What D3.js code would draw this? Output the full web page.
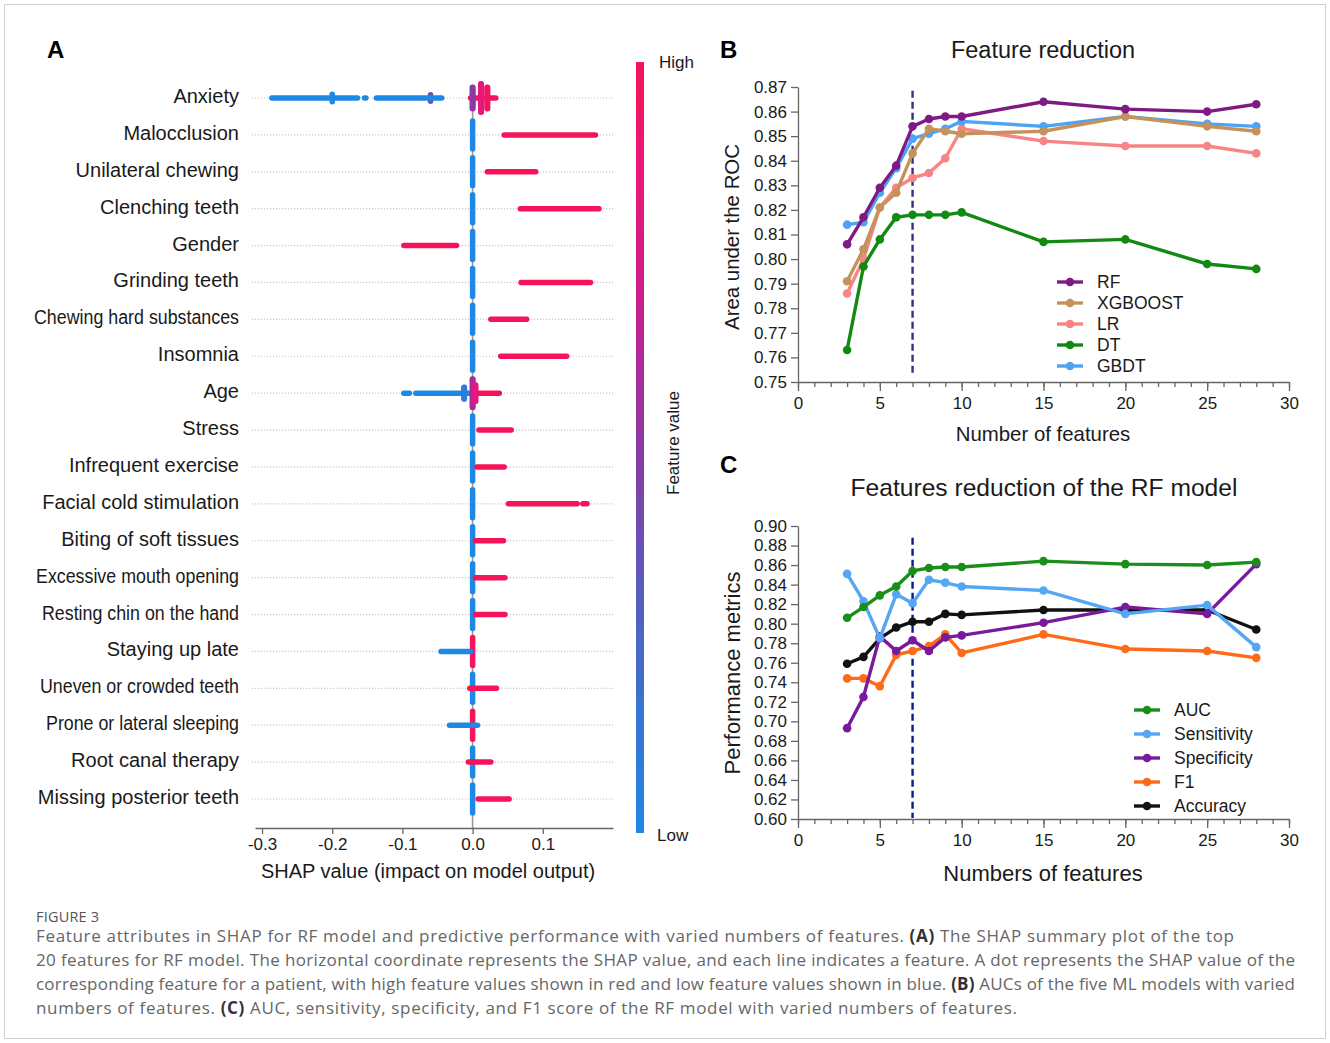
<!DOCTYPE html>
<html>
<head>
<meta charset="utf-8">
<script src="https://cdn.jsdelivr.net/npm/d3@7"></script>
<style>
  body { margin: 0; background: #fff; }
  svg { display: block; font-family: "Liberation Sans", Arial, sans-serif; }
</style>
</head>
<body>
<svg id="fig" width="1330" height="1043"></svg>
<script>
// ===== DATA =====
// Panel A: SHAP summary, features top to bottom
const shapFeatures = [
  'Anxiety', 'Malocclusion', 'Unilateral chewing', 'Clenching teeth', 'Gender',
  'Grinding teeth', 'Chewing hard substances', 'Insomnia', 'Age', 'Stress',
  'Infrequent exercise', 'Facial cold stimulation', 'Biting of soft tissues',
  'Excessive mouth opening', 'Resting chin on the hand', 'Staying up late',
  'Uneven or crowded teeth', 'Prone or lateral sleeping', 'Root canal therapy',
  'Missing posterior teeth'
];
// horizontal runs of low-value (blue) dots, [min, max] SHAP value per run
const shapLowRuns = [
  [[-0.286, -0.164], [-0.154, -0.152], [-0.137, -0.044]],
  [], [], [], [], [], [], [],
  [[-0.098, -0.090], [-0.081, 0]],
  [], [], [], [], [], [],
  [[-0.045, -0.003]],
  [],
  [[-0.033, 0.007]],
  [], []
];
// horizontal runs of high-value (red) dots
const shapHighRuns = [
  [[-0.003, 0.033]],
  [[0.045, 0.175]],
  [[0.021, 0.090]],
  [[0.068, 0.180]],
  [[-0.098, -0.023]],
  [[0.069, 0.168]],
  [[0.026, 0.077]],
  [[0.040, 0.134]],
  [[0, 0.038]],
  [[0.009, 0.055]],
  [[0.006, 0.045]],
  [[0.051, 0.149], [0.157, 0.163]],
  [[0.004, 0.044]],
  [[0.004, 0.046]],
  [[0.004, 0.046]],
  [],
  [[-0.004, 0.034]],
  [],
  [[-0.006, 0.026]],
  [[0.008, 0.052]]
];
// piled-up dots: [feature index, SHAP value, pile density 0-1, feature value 0-1]
const shapPiles = [
  [0, -0.200, 0.15, 0], [0, -0.060, 0.1, 0.4], [0, 0, 0.7, 0.5], [0, 0.012, 1, 0.85], [0, 0.021, 0.7, 0.95],
  [1, 0, 1, 0], [2, 0, 1, 0], [3, 0, 1, 0], [4, 0, 1, 0], [5, 0, 1, 0], [6, 0, 1, 0], [7, 0, 1, 0],
  [8, -0.012, 0.3, 0.1], [8, 0, 1, 0.6], [8, 0.004, 0.5, 0.85],
  [9, 0, 1, 0], [10, 0, 1, 0], [11, 0, 1, 0], [12, 0, 1, 0], [13, 0, 1, 0], [14, 0, 1, 0],
  [15, 0, 1, 1], [16, 0, 1, 0], [17, 0, 1, 1], [18, 0, 1, 0], [19, 0, 1, 0]
];
const shapTicks = [-0.3, -0.2, -0.1, 0.0, 0.1];

// Panels B and C: number of features
const featureCounts = [3, 4, 5, 6, 7, 8, 9, 10, 15, 20, 25, 28];
const selectedCount = 7;

// Panel B: AUC per model
const aucRF      = [0.806, 0.817, 0.829, 0.838, 0.854, 0.857, 0.858, 0.858, 0.864, 0.861, 0.860, 0.863];
const aucXGBOOST = [0.791, 0.804, 0.821, 0.827, 0.843, 0.853, 0.852, 0.851, 0.852, 0.858, 0.854, 0.852];
const aucLR      = [0.786, 0.800, 0.821, 0.829, 0.833, 0.835, 0.841, 0.853, 0.848, 0.846, 0.846, 0.843];
const aucDT      = [0.763, 0.797, 0.808, 0.817, 0.818, 0.818, 0.818, 0.819, 0.807, 0.808, 0.798, 0.796];
const aucGBDT    = [0.814, 0.815, 0.827, 0.837, 0.849, 0.851, 0.853, 0.856, 0.854, 0.858, 0.855, 0.854];

// Panel C: RF model metrics
const rfAUC         = [0.806, 0.817, 0.829, 0.838, 0.854, 0.857, 0.858, 0.858, 0.864, 0.861, 0.860, 0.863];
const rfSensitivity = [0.851, 0.823, 0.785, 0.830, 0.821, 0.845, 0.842, 0.838, 0.834, 0.810, 0.819, 0.776];
const rfSpecificity = [0.693, 0.725, 0.787, 0.772, 0.783, 0.772, 0.786, 0.788, 0.801, 0.817, 0.810, 0.861];
const rfF1          = [0.744, 0.744, 0.736, 0.768, 0.772, 0.777, 0.789, 0.770, 0.789, 0.774, 0.772, 0.765];
const rfAccuracy    = [0.759, 0.766, 0.785, 0.796, 0.802, 0.802, 0.810, 0.809, 0.814, 0.814, 0.814, 0.794];

// ===== HELPERS =====
const svg = d3.select('#fig');
const AXIS = '#666';
const TXT = '#1a1a1a';

svg.append('rect').attr('width', 1330).attr('height', 1043).attr('fill', '#fff');
svg.append('rect')
  .attr('x', 4.5).attr('y', 4.5).attr('width', 1321).attr('height', 1034)
  .attr('fill', 'none').attr('stroke', '#cfcfcf');

function styleAxis(g, size) {
  g.selectAll('path, line').attr('stroke', AXIS).attr('stroke-width', 1.3);
  g.selectAll('text').attr('fill', TXT).style('font-size', size + 'px')
    .style('font-family', '"Liberation Sans", Arial, sans-serif');
}

function panelLetter(x, y, t) {
  svg.append('text').attr('x', x).attr('y', y).text(t)
    .attr('fill', '#000').style('font-size', '24px').style('font-weight', 'bold');
}

// ===== PANEL A: SHAP summary =====
panelLetter(47, 58, 'A');

const xA = d3.scaleLinear().domain([-0.31, 0.2]).range([255, 613]);
const yA = d3.scalePoint().domain(shapFeatures).range([98, 799]);
const tone = d3.scaleLinear()
  .domain([0, 0.25, 0.5, 0.7, 0.85, 1])
  .range(['#1e88e5', '#4a67c6', '#8a3aa0', '#cc1c8c', '#e8187a', '#f5145a']);
const pileHalf = d3.scaleLinear().domain([0, 1]).range([2, 14]);

// a few labels were set in a narrower face in the original figure
const narrowLabelWidth = {
  'Chewing hard substances': 205,
  'Excessive mouth opening': 203,
  'Resting chin on the hand': 197,
  'Uneven or crowded teeth': 199,
  'Prone or lateral sleeping': 193
};

const gA = svg.append('g');

// dotted row guides
gA.selectAll('.row-guide')
  .data(shapFeatures)
  .join('line')
  .attr('class', 'row-guide')
  .attr('x1', 252).attr('x2', 615)
  .attr('y1', d => yA(d)).attr('y2', d => yA(d))
  .attr('stroke', '#c8c8c8').attr('stroke-width', 1.2)
  .attr('stroke-dasharray', '1.2,1.8');

// zero line
gA.append('line')
  .attr('x1', xA(0)).attr('x2', xA(0))
  .attr('y1', 85).attr('y2', 828)
  .attr('stroke', '#9a9a9a').attr('stroke-width', 1.6);

// feature labels
gA.selectAll('.feat-label')
  .data(shapFeatures)
  .join('text')
  .attr('class', 'feat-label')
  .attr('x', 239)
  .attr('y', d => yA(d) - 2)
  .attr('dy', '0.35em')
  .attr('text-anchor', 'end')
  .attr('fill', TXT)
  .style('font-size', '20px')
  .text(d => d)
  .each(function (d) {
    if (narrowLabelWidth[d]) {
      d3.select(this)
        .attr('textLength', narrowLabelWidth[d])
        .attr('lengthAdjust', 'spacingAndGlyphs');
    }
  });

const runs = [];
shapLowRuns.forEach((list, i) => list.forEach(r => runs.push({ f: shapFeatures[i], r, t: 0 })));
shapHighRuns.forEach((list, i) => list.forEach(r => runs.push({ f: shapFeatures[i], r, t: 1 })));

gA.selectAll('.pile')
  .data(shapPiles)
  .join('line')
  .attr('class', 'pile')
  .attr('x1', d => xA(d[1])).attr('x2', d => xA(d[1]))
  .attr('y1', d => yA(shapFeatures[d[0]]) - pileHalf(d[2]))
  .attr('y2', d => yA(shapFeatures[d[0]]) + pileHalf(d[2]))
  .attr('stroke', d => tone(d[3]))
  .attr('stroke-width', 5.5)
  .attr('stroke-linecap', 'round');

gA.selectAll('.run')
  .data(runs)
  .join('line')
  .attr('class', 'run')
  .attr('x1', d => xA(d.r[0])).attr('x2', d => xA(d.r[1]))
  .attr('y1', d => yA(d.f)).attr('y2', d => yA(d.f))
  .attr('stroke', d => tone(d.t))
  .attr('stroke-width', 5.5)
  .attr('stroke-linecap', 'round');

// Anxiety / Age mixed piles drawn again on top
gA.selectAll('.pile-top')
  .data(shapPiles.filter(d => (d[0] === 0 || d[0] === 8) && d[2] > 0.2))
  .join('line')
  .attr('class', 'pile-top')
  .attr('x1', d => xA(d[1])).attr('x2', d => xA(d[1]))
  .attr('y1', d => yA(shapFeatures[d[0]]) - pileHalf(d[2]))
  .attr('y2', d => yA(shapFeatures[d[0]]) + pileHalf(d[2]))
  .attr('stroke', d => tone(d[3]))
  .attr('stroke-width', 6)
  .attr('stroke-linecap', 'round');

const xAxisA = gA.append('g')
  .attr('transform', 'translate(0,828)')
  .call(d3.axisBottom(xA).tickValues(shapTicks).tickFormat(d => d.toFixed(1)).tickSize(6).tickSizeOuter(0).tickPadding(4));
styleAxis(xAxisA, 17);

gA.append('text')
  .attr('x', 428).attr('y', 878)
  .attr('text-anchor', 'middle').attr('fill', TXT)
  .style('font-size', '20px')
  .text('SHAP value (impact on model output)');

// colour bar
const defs = svg.append('defs');
const grad = defs.append('linearGradient')
  .attr('id', 'fv-grad')
  .attr('x1', 0).attr('y1', 1).attr('x2', 0).attr('y2', 0);
tone.domain().forEach(s => {
  grad.append('stop').attr('offset', s).attr('stop-color', tone(s));
});
gA.append('rect')
  .attr('x', 636).attr('y', 62).attr('width', 8).attr('height', 771)
  .attr('fill', 'url(#fv-grad)');
gA.append('text').attr('x', 659).attr('y', 68).attr('fill', TXT).style('font-size', '17px').text('High');
gA.append('text').attr('x', 657).attr('y', 841).attr('fill', TXT).style('font-size', '17px').text('Low');
gA.append('text')
  .attr('transform', 'translate(679,443) rotate(-90)')
  .attr('text-anchor', 'middle').attr('fill', TXT)
  .style('font-size', '17px')
  .text('Feature value');

// ===== LINE CHART HELPER =====
function lineChart(opts) {
  const g = svg.append('g');
  const x = d3.scaleLinear().domain([0, 30]).range([798, 1289]);
  const y = d3.scaleLinear().domain(opts.yDomain).range(opts.yRange);
  const bottom = opts.yRange[0];

  g.append('text')
    .attr('x', opts.titleX).attr('y', opts.titleY)
    .attr('text-anchor', 'middle').attr('fill', TXT)
    .style('font-size', opts.titleSize + 'px')
    .text(opts.title);

  const yAxis = g.append('g')
    .attr('transform', `translate(${x(0)},0)`)
    .call(d3.axisLeft(y).tickValues(opts.yTicks).tickFormat(d3.format('.2f')).tickSize(7).tickSizeOuter(0).tickPadding(4));
  styleAxis(yAxis, 17);

  const xMinor = g.append('g')
    .attr('transform', `translate(0,${bottom})`)
    .call(d3.axisBottom(x).tickValues(d3.range(0, 31)).tickFormat('').tickSize(5).tickSizeOuter(0));
  styleAxis(xMinor, 17);
  const xMajor = g.append('g')
    .attr('transform', `translate(0,${bottom})`)
    .call(d3.axisBottom(x).tickValues(d3.range(0, 31, 5)).tickSize(9).tickSizeOuter(0).tickPadding(6));
  styleAxis(xMajor, 17);
  xMajor.select('.domain').remove();

  g.append('text')
    .attr('transform', `translate(${opts.yLabelX},${opts.yLabelY}) rotate(-90)`)
    .attr('text-anchor', 'middle').attr('fill', TXT)
    .style('font-size', opts.labelSize + 'px')
    .text(opts.yLabel);
  g.append('text')
    .attr('x', 1043).attr('y', opts.xLabelY)
    .attr('text-anchor', 'middle').attr('fill', TXT)
    .style('font-size', opts.labelSize + 'px')
    .text(opts.xLabel);

  // selected number of features
  g.append('line')
    .attr('x1', x(selectedCount)).attr('x2', x(selectedCount))
    .attr('y1', y(opts.refLine[1])).attr('y2', y(opts.refLine[0]))
    .attr('stroke', opts.refColor).attr('stroke-width', 2.4)
    .attr('stroke-dasharray', '7,4');

  const line = d3.line().x((d, i) => x(featureCounts[i])).y(d => y(d));
  opts.series.forEach(s => {
    const sg = g.append('g');
    sg.append('path')
      .datum(s.values)
      .attr('d', line)
      .attr('fill', 'none')
      .attr('stroke', s.color)
      .attr('stroke-width', 3.4)
      .attr('stroke-linejoin', 'round');
    sg.selectAll('circle')
      .data(s.values)
      .join('circle')
      .attr('cx', (d, i) => x(featureCounts[i]))
      .attr('cy', d => y(d))
      .attr('r', 4.3)
      .attr('fill', s.color);
  });

  // legend (listed in its own order)
  opts.legend.forEach((s, i) => {
    const ly = opts.legendY + i * opts.legendStep;
    g.append('line')
      .attr('x1', opts.legendX).attr('x2', opts.legendX + 26)
      .attr('y1', ly).attr('y2', ly)
      .attr('stroke', s.color).attr('stroke-width', 3.4);
    g.append('circle')
      .attr('cx', opts.legendX + 13).attr('cy', ly).attr('r', 4.3)
      .attr('fill', s.color);
    g.append('text')
      .attr('x', opts.legendX + 40).attr('y', ly).attr('dy', '0.35em')
      .attr('fill', TXT).style('font-size', '17.5px')
      .text(s.name);
  });
}

// ===== PANEL B =====
panelLetter(720, 58, 'B');
const seriesB = {
  RF:      { name: 'RF',      values: aucRF,      color: '#7e1a84' },
  XGBOOST: { name: 'XGBOOST', values: aucXGBOOST, color: '#c4925a' },
  LR:      { name: 'LR',      values: aucLR,      color: '#f78585' },
  DT:      { name: 'DT',      values: aucDT,      color: '#128a12' },
  GBDT:    { name: 'GBDT',    values: aucGBDT,    color: '#4fa3f5' }
};
lineChart({
  title: 'Feature reduction', titleX: 1043, titleY: 58, titleSize: 23.5,
  yDomain: [0.75, 0.87], yRange: [382, 87],
  yTicks: d3.range(0, 13).map(i => 0.75 + i * 0.01),
  yLabel: 'Area under the ROC', yLabelX: 739, yLabelY: 237,
  xLabel: 'Number of features', xLabelY: 441, labelSize: 20.4,
  refLine: [0.7535, 0.8685], refColor: '#2f3382',
  series: [seriesB.LR, seriesB.DT, seriesB.GBDT, seriesB.XGBOOST, seriesB.RF],
  legend: [seriesB.RF, seriesB.XGBOOST, seriesB.LR, seriesB.DT, seriesB.GBDT],
  legendX: 1057, legendY: 282, legendStep: 21
});

// ===== PANEL C =====
panelLetter(720, 473, 'C');
const seriesC = {
  AUC: { name: 'AUC',         values: rfAUC,         color: '#1a8e1a' },
  SEN: { name: 'Sensitivity', values: rfSensitivity, color: '#55a7f3' },
  SPE: { name: 'Specificity', values: rfSpecificity, color: '#781a9c' },
  F1:  { name: 'F1',          values: rfF1,          color: '#ff6a16' },
  ACC: { name: 'Accuracy',    values: rfAccuracy,    color: '#111111' }
};
lineChart({
  title: 'Features reduction of the RF model', titleX: 1044, titleY: 496, titleSize: 24.6,
  yDomain: [0.60, 0.90], yRange: [819, 526],
  yTicks: d3.range(0, 16).map(i => 0.60 + i * 0.02),
  yLabel: 'Performance metrics', yLabelX: 740, yLabelY: 673,
  xLabel: 'Numbers of features', xLabelY: 881, labelSize: 22,
  refLine: [0.601, 0.888], refColor: '#0b1a8c',
  series: [seriesC.F1, seriesC.ACC, seriesC.SPE, seriesC.SEN, seriesC.AUC],
  legend: [seriesC.AUC, seriesC.SEN, seriesC.SPE, seriesC.F1, seriesC.ACC],
  legendX: 1134, legendY: 710, legendStep: 24
});

// ===== CAPTION =====
const capFont = '"Open Sans", "Noto Sans", sans-serif';
svg.append('text')
  .attr('x', 36).attr('y', 922)
  .attr('fill', '#555').style('font-family', capFont)
  .style('font-size', '14.5px').style('letter-spacing', '0.2px')
  .text('FIGURE 3');

const captionLines = [
  [['Feature attributes in SHAP for RF model and predictive performance with varied numbers of features. ', 0], ['(A)', 1], [' The SHAP summary plot of the top', 0]],
  [['20 features for RF model. The horizontal coordinate represents the SHAP value, and each line indicates a feature. A dot represents the SHAP value of the', 0]],
  [['corresponding feature for a patient, with high feature values shown in red and low feature values shown in blue. ', 0], ['(B)', 1], [' AUCs of the five ML models with varied', 0]],
  [['numbers of features. ', 0], ['(C)', 1], [' AUC, sensitivity, specificity, and F1 score of the RF model with varied numbers of features.', 0]]
];
const captionWidths = [1198, 1259, 1259, 981];
captionLines.forEach((parts, i) => {
  const t = svg.append('text')
    .attr('x', 36).attr('y', 942 + i * 24)
    .attr('fill', '#666').style('font-family', capFont)
    .style('font-size', '17px');
  parts.forEach(p => {
    t.append('tspan').text(p[0])
      .style('font-weight', p[1] ? 'bold' : 'normal')
      .attr('fill', p[1] ? '#333' : '#666');
  });
  t.attr('textLength', captionWidths[i]).attr('lengthAdjust', 'spacing');
});
</script>
</body>
</html>
